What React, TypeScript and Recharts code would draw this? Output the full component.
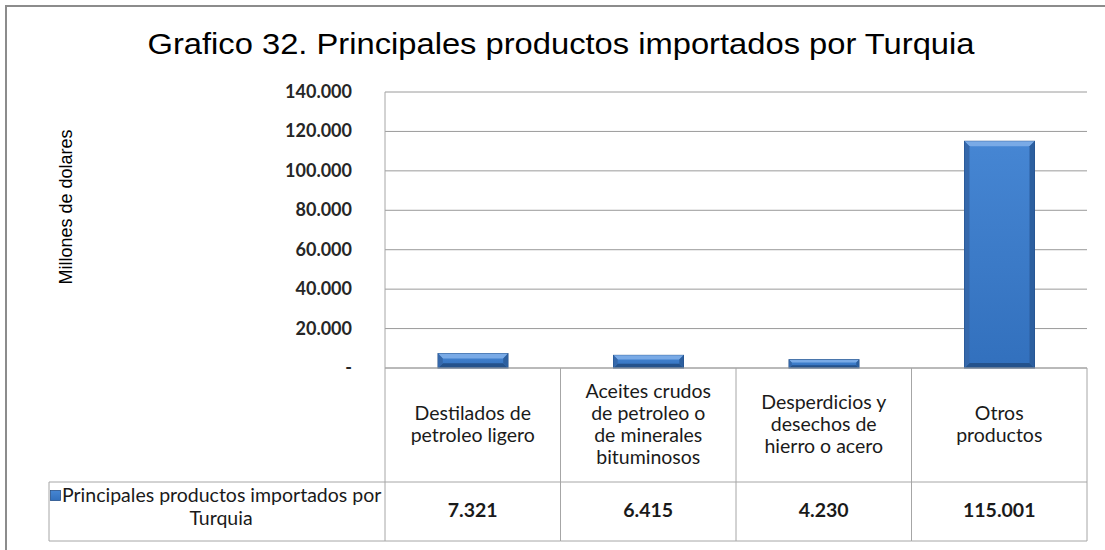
import React from 'react';
import { BarChart, Bar, XAxis, YAxis, CartesianGrid } from 'recharts';

const title = 'Grafico 32. Principales productos importados por Turquia';
const yTitle = 'Millones de dolares';
const seriesName = 'Principales productos importados por Turquia';
const categories = [
  'Destilados de\npetroleo ligero',
  'Aceites crudos\nde petroleo o\nde minerales\nbituminosos',
  'Desperdicios y\ndesechos de\nhierro o acero',
  'Otros\nproductos',
];
const values = [7321, 6415, 4230, 115001];
const yTicks = [0, 20000, 40000, 60000, 80000, 100000, 120000, 140000];

const data = categories.map((c, i) => ({ category: c, value: values[i] }));

const fmt = (v: number) =>
  v === 0 ? '-' : String(v).replace(/\B(?=(\d{3})+(?!\d))/g, '.');

const wrap = (s: string, max: number) => {
  const out: string[] = [];
  let cur = '';
  s.split(' ').forEach((w) => {
    const t = cur ? cur + ' ' + w : w;
    if (t.length > max && cur) {
      out.push(cur);
      cur = w;
    } else cur = t;
  });
  if (cur) out.push(cur);
  return out;
};

const FONT = 'Lato, "Open Sans", sans-serif';
const LINE = '#a6a6a6';
const TFS = 19.5;

const BarShape = (p: any) => {
  const { x, y, width: w, height: h } = p;
  if (!h || h <= 0) return null;
  const b = Math.min(5, h / 3);
  return (
    <g>
      <rect x={x} y={y} width={w} height={h} fill="url(#barGrad)" stroke="#234f88" strokeWidth={1} />
      <polygon points={`${x},${y} ${x + w},${y} ${x + w - b},${y + b} ${x + b},${y + b}`} fill="#79aae6" />
      <polygon points={`${x},${y + h} ${x + w},${y + h} ${x + w - b},${y + h - b} ${x + b},${y + h - b}`} fill="#24528c" />
      <polygon points={`${x},${y} ${x + b},${y + b} ${x + b},${y + h - b} ${x},${y + h}`} fill="#3568ab" />
      <polygon points={`${x + w},${y} ${x + w - b},${y + b} ${x + w - b},${y + h - b} ${x + w},${y + h}`} fill="#2c5f9f" />
    </g>
  );
};

const YTick = (p: any) => {
  const { x, y, payload } = p;
  return (
    <text x={x} y={y} dy={6} textAnchor="end" fontFamily={FONT} fontWeight={700} fontSize={18} fill="#262626">
      {fmt(payload.value)}
    </text>
  );
};

const TableTick = (p: any) => {
  const { x, y, payload, index } = p;
  const half = payload.offset ?? 87.75;
  const left = x - half;
  const right = x + half;
  const rowMid = y + 114;
  const rowBot = y + 173;
  const lines = String(payload.value).split('\n');
  const lh = 22;
  const cy = y + 63;
  const val = data[index] ? data[index].value : 0;
  const legendLines = wrap(seriesName, 36);
  return (
    <g>
      {index === 0 && <line x1={left} y1={y} x2={left} y2={rowBot} stroke={LINE} />}
      <line x1={right} y1={y} x2={right} y2={rowBot} stroke={LINE} />
      <line x1={left} y1={rowMid} x2={right} y2={rowMid} stroke={LINE} />
      <line x1={left} y1={rowBot} x2={right} y2={rowBot} stroke={LINE} />
      {lines.map((l, i) => (
        <text
          key={i}
          x={x}
          y={cy + (i - (lines.length - 1) / 2) * lh}
          textAnchor="middle"
          fontFamily={FONT}
          fontSize={TFS}
          fill="#1a1a1a"
        >
          {l}
        </text>
      ))}
      <text x={x} y={y + 149} textAnchor="middle" fontFamily={FONT} fontWeight={700} fontSize={TFS} fill="#1a1a1a">
        {fmt(val)}
      </text>
      {index === 0 && (
        <g>
          <line x1={49} y1={rowMid} x2={left} y2={rowMid} stroke={LINE} />
          <line x1={49} y1={rowBot} x2={left} y2={rowBot} stroke={LINE} />
          <line x1={49} y1={rowMid} x2={49} y2={rowBot} stroke={LINE} />
          {legendLines.map((l, i) => (
            <text
              key={i}
              x={i === 0 ? 62 : (49 + left) / 2 + 4}
              y={y + 134 + i * 23}
              textAnchor={i === 0 ? 'start' : 'middle'}
              fontFamily={FONT}
              fontSize={TFS}
              fill="#1a1a1a"
            >
              {l}
            </text>
          ))}
          <rect x={50.5} y={y + 122.5} width={10} height={10} fill="url(#barGrad)" stroke="#234f88" strokeWidth={0.8} />
        </g>
      )}
    </g>
  );
};

export default function App() {
  return (
    <div style={{ position: 'absolute', left: 0, top: 0, width: 1105, height: 550, background: '#fff' }}>
      <BarChart
        width={1105}
        height={550}
        data={data}
        margin={{ top: 92, right: 18, bottom: 0, left: 325 }}
        barSize={70}
      >
        <defs>
          <linearGradient id="barGrad" x1="0" y1="0" x2="0" y2="1">
            <stop offset="0%" stopColor="#4686d3" />
            <stop offset="100%" stopColor="#3270bd" />
          </linearGradient>
        </defs>
        <CartesianGrid vertical={false} stroke="#9a9a9a" strokeWidth={1} />
        <YAxis
          width={60}
          domain={[0, 140000]}
          ticks={yTicks}
          interval={0}
          tickLine={false}
          tickSize={0}
          tickMargin={33}
          axisLine={{ stroke: LINE }}
          tick={<YTick />}
        />
        <XAxis
          dataKey="category"
          height={182}
          interval={0}
          tickLine={false}
          tickSize={0}
          tickMargin={0}
          axisLine={{ stroke: LINE }}
          tick={<TableTick />}
        />
        <Bar dataKey="value" name={seriesName} isAnimationActive={false} shape={<BarShape />} />
      </BarChart>
      <svg
        width={1105}
        height={550}
        style={{ position: 'absolute', left: 0, top: 0, pointerEvents: 'none' }}
      >
        <line x1={5} y1={6} x2={1105} y2={6} stroke="#8c8c8c" strokeWidth={2} />
        <line x1={6} y1={5} x2={6} y2={550} stroke="#8c8c8c" strokeWidth={2} />
        <text
          x={561}
          y={54}
          textAnchor="middle"
          fontFamily='"Liberation Sans", Arial, sans-serif'
          fontSize={30}
          textLength={827}
          lengthAdjust="spacingAndGlyphs"
          fill="#000"
        >
          {title}
        </text>
        <text
          transform="translate(72,207) rotate(-90)"
          textAnchor="middle"
          fontFamily='"Liberation Sans", Arial, sans-serif'
          fontSize={18}
          fill="#000"
        >
          {yTitle}
        </text>
      </svg>
    </div>
  );
}
